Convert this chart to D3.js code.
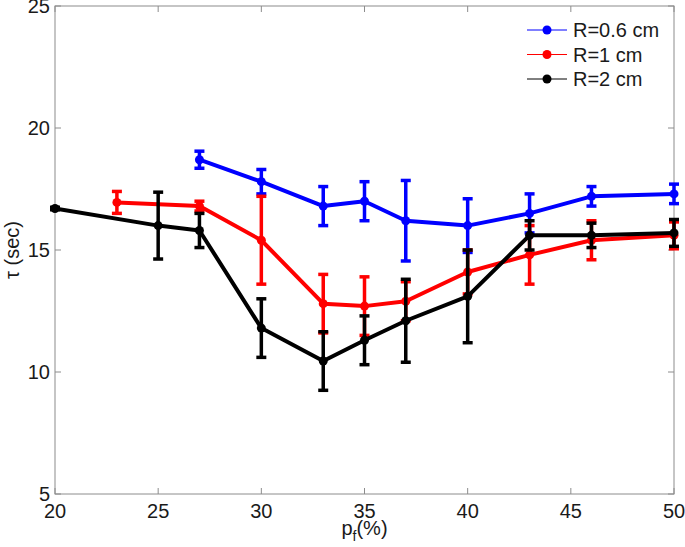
<meta charset="utf-8">
<script src="https://d3js.org/d3.v7.min.js"></script>
<style>
  body { margin: 0; background: #fff; }
  text { font-family: "Liberation Sans", Arial, sans-serif; font-size: 20px; fill: #1a1a1a; }
  .frame { fill: none; stroke: #8c8c8c; stroke-width: 1px; }
  .tick { stroke: #8c8c8c; stroke-width: 1px; }
  .line { fill: none; stroke-width: 4px; stroke-linejoin: round; }
  .err { stroke-width: 3.5px; }
</style>
<body>
<script>
  // series: R=0.6 cm, R=1 cm, R=2 cm
  var seriesNames = ['R=0.6 cm', 'R=1 cm', 'R=2 cm'];
  var seriesColors = ['#0000ff', '#ff0000', '#000000'];

  var xBlue = [27, 30, 33, 35, 37, 40, 43, 46, 50];
  var yBlue = [18.7, 17.8, 16.8, 17.0, 16.2, 16.0, 16.5, 17.2, 17.3];
  var eBlue = [0.35, 0.5, 0.8, 0.8, 1.65, 1.1, 0.8, 0.4, 0.4];

  var xRed = [23, 27, 30, 33, 35, 37, 40, 43, 46, 50];
  var yRed = [16.95, 16.8, 15.4, 12.8, 12.7, 12.9, 14.1, 14.8, 15.4, 15.6];
  var eRed = [0.45, 0.2, 1.8, 1.2, 1.2, 0.8, 0.9, 1.2, 0.8, 0.55];

  var xBlack = [20, 25, 27, 30, 33, 35, 37, 40, 43, 46, 50];
  var yBlack = [16.7, 16.0, 15.8, 11.8, 10.45, 11.3, 12.1, 13.1, 15.6, 15.6, 15.7];
  var eBlack = [0.05, 1.37, 0.7, 1.2, 1.2, 1.0, 1.7, 1.9, 0.6, 0.5, 0.55];

  var xTicks = [20, 25, 30, 35, 40, 45, 50];
  var yTicks = [5, 10, 15, 20, 25];

  var W = 685, H = 547;
  var m = {left: 55, top: 6, right: 11, bottom: 53};
  var w = W - m.left - m.right, h = H - m.top - m.bottom;

  var x = d3.scaleLinear().domain([20, 50]).range([0, w]);
  var y = d3.scaleLinear().domain([5, 25]).range([h, 0]);

  var svg = d3.select('body').append('svg')
    .attr('width', W)
    .attr('height', H);

  var g = svg.append('g').attr('transform', 'translate(' + m.left + ',' + m.top + ')');

  // frame + inside ticks
  g.append('rect').attr('class', 'frame').attr('x', 0).attr('y', 0).attr('width', w).attr('height', h);

  var tl = 6;
  xTicks.forEach(function(t){
    g.append('line').attr('class', 'tick').attr('x1', x(t)).attr('x2', x(t)).attr('y1', h).attr('y2', h - tl);
    g.append('line').attr('class', 'tick').attr('x1', x(t)).attr('x2', x(t)).attr('y1', 0).attr('y2', tl);
    g.append('text').attr('x', x(t)).attr('y', h + 24).attr('text-anchor', 'middle').text(t);
  });
  yTicks.forEach(function(t){
    g.append('line').attr('class', 'tick').attr('y1', y(t)).attr('y2', y(t)).attr('x1', 0).attr('x2', tl);
    g.append('line').attr('class', 'tick').attr('y1', y(t)).attr('y2', y(t)).attr('x1', w).attr('x2', w - tl);
    g.append('text').attr('x', -5).attr('y', y(t)).attr('dy', '0.36em').attr('text-anchor', 'end').text(t);
  });

  // axis labels
  var xl = svg.append('text').attr('x', m.left + w / 2).attr('y', 535).attr('text-anchor', 'middle');
  xl.append('tspan').text('p');
  xl.append('tspan').attr('dy', 6).style('font-size', '14px').text('f');
  xl.append('tspan').attr('dy', -6).text('(%)');

  svg.append('text')
    .attr('transform', 'translate(19,' + (m.top + h / 2) + ') rotate(-90)')
    .attr('text-anchor', 'middle')
    .text('τ (sec)');

  // series
  var series = [
    {xs: xBlue, ys: yBlue, es: eBlue},
    {xs: xRed, ys: yRed, es: eRed},
    {xs: xBlack, ys: yBlack, es: eBlack}
  ].map(function(s, i){
    return {name: seriesNames[i], color: seriesColors[i],
      pts: s.xs.map(function(v, j){ return {x: v, y: s.ys[j], e: s.es[j]}; })};
  });

  var line = d3.line().x(function(d){ return x(d.x); }).y(function(d){ return y(d.y); });
  var cw = 5;

  var sg = g.selectAll('g.series').data(series).enter().append('g').attr('class', 'series');

  sg.append('path').attr('class', 'line')
    .attr('stroke', function(d){ return d.color; })
    .attr('d', function(d){ return line(d.pts); });

  sg.each(function(s){
    var el = d3.select(this);
    var eb = el.selectAll('g.eb').data(s.pts).enter().append('g').attr('class', 'eb')
      .attr('stroke', s.color);
    eb.append('line').attr('class', 'err')
      .attr('x1', function(d){ return x(d.x); }).attr('x2', function(d){ return x(d.x); })
      .attr('y1', function(d){ return y(d.y - d.e); }).attr('y2', function(d){ return y(d.y + d.e); });
    eb.append('line').attr('class', 'err')
      .attr('x1', function(d){ return x(d.x) - cw; }).attr('x2', function(d){ return x(d.x) + cw; })
      .attr('y1', function(d){ return y(d.y + d.e); }).attr('y2', function(d){ return y(d.y + d.e); });
    eb.append('line').attr('class', 'err')
      .attr('x1', function(d){ return x(d.x) - cw; }).attr('x2', function(d){ return x(d.x) + cw; })
      .attr('y1', function(d){ return y(d.y - d.e); }).attr('y2', function(d){ return y(d.y - d.e); });
    el.selectAll('circle').data(s.pts).enter().append('circle')
      .attr('cx', function(d){ return x(d.x); })
      .attr('cy', function(d){ return y(d.y); })
      .attr('r', 4.5)
      .attr('fill', s.color);
  });

  // legend
  var lg = svg.selectAll('g.leg').data(series).enter().append('g').attr('class', 'leg')
    .attr('transform', function(d, i){ return 'translate(527,' + (30 + i * 24.5) + ')'; });
  lg.append('line').attr('x1', 0).attr('x2', 40).attr('y1', 0).attr('y2', 0)
    .attr('stroke', function(d){ return d.color; }).attr('stroke-width', 1);
  lg.append('circle').attr('cx', 20).attr('cy', 0).attr('r', 4.5)
    .attr('fill', function(d){ return d.color; });
  lg.append('text').attr('x', 46).attr('dy', '0.36em').text(function(d){ return d.name; });
</script>
</body>
